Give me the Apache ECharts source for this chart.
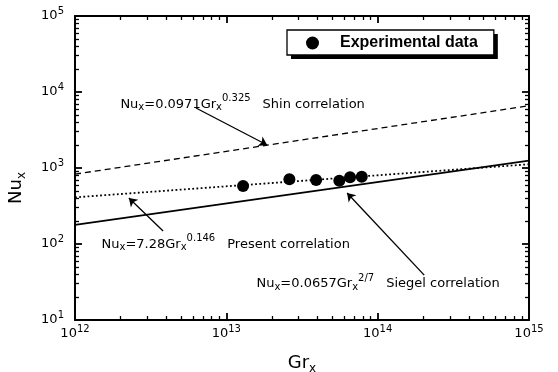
<!DOCTYPE html>
<html>
<head>
<meta charset="utf-8">
<script src="https://cdn.jsdelivr.net/npm/echarts@6/dist/echarts.min.js"></script>
<style>
  html, body { margin: 0; padding: 0; background: #fff; }
  #chart { width: 558px; height: 372px; }
</style>
</head>
<body>
<div id="chart"></div>
<script>
// experimental points
var grExp = [1.29e13, 2.61e13, 3.92e13, 5.58e13, 6.57e13, 7.85e13];
var nuExp = [580, 710, 695, 680, 755, 769];
var legendLabel = 'Experimental data';

// correlation lines, end points at Gr = 1e12 and 1e15
var grEnds = [1e12, 1e15];
var nuShin = [830, 6600];
var nuPresent = [411, 1120];
var nuSiegel = [178, 1250];

// annotation text anchors [Gr, Nu] and labels
var shinLabelAt = [1.98e12, 6810];
var presentLabelAt = [1.486e12, 98];
var siegelLabelAt = [1.57e13, 29.8];
var shinLabel = 'Nu{sub|x}=0.0971Gr{sub|x}{sup|0.325}{nm|Shin correlation}';
var presentLabel = 'Nu{sub|x}=7.28Gr{sub|x}{sup|0.146}{nm|Present correlation}';
var siegelLabel = 'Nu{sub|x}=0.0657Gr{sub|x}{sup|2/7}{nm|Siegel correlation}';

// arrows: [from, to]
var shinArrow = [[6.3e12, 6150], [1.86e13, 2010]];
var presentArrow = [[3.82e12, 148], [2.27e12, 403]];
var siegelArrow = [[2.03e14, 39], [6.28e13, 469]];

var xDecades = [12, 13, 14];
var yDecades = [1, 2, 3, 4];

var FONT = '"DejaVu Sans", sans-serif';
var richText = {
    sub: { fontSize: 10, lineHeight: 10, verticalAlign: 'bottom', padding: [0, 0, 3, 0], fontFamily: FONT, color: '#000' },
    sup: { fontSize: 10, lineHeight: 10, verticalAlign: 'top', fontFamily: FONT, color: '#000' },
    nm: { fontSize: 13, fontFamily: FONT, color: '#000', padding: [0, 0, 0, 12] }
};
var nameRich = {
    sub: { fontSize: 12, lineHeight: 12, verticalAlign: 'bottom', padding: [0, 0, 2, 0], fontFamily: FONT, color: '#000' }
};

function pairs(xs, ys) {
    return xs.map(function (x, i) { return [x, ys[i]]; });
}

function minorValues(decades) {
    var out = [];
    decades.forEach(function (d) {
        for (var m = 2; m <= 9; m++) out.push(m * Math.pow(10, d));
    });
    return out;
}

function powLabel(value) {
    return '10{sup|' + Math.round(Math.log10(value)) + '}';
}

function textPoint(at, text) {
    return {
        coord: at, symbol: 'circle', symbolSize: 1,
        itemStyle: { color: 'rgba(0,0,0,0)' },
        label: {
            show: true, position: 'right', distance: 0, formatter: text,
            fontFamily: FONT, fontSize: 13, lineHeight: 22, color: '#000', rich: richText
        }
    };
}

function arrow(a) {
    return [{ coord: a[0] }, { coord: a[1] }];
}

var markStyle = {
    silent: true, animation: false,
    symbol: ['none', 'arrow'], symbolSize: 8,
    lineStyle: { color: '#000', width: 1.3, type: 'solid' },
    label: { show: false }
};

function logAxis(range, pos, labels, margin) {
    return {
        type: 'log', logBase: 10, min: range[0], max: range[1], position: pos,
        axisLine: { show: true, lineStyle: { color: '#000', width: 2 } },
        axisTick: { show: true, inside: true, length: 7, lineStyle: { color: '#000', width: 1.8 } },
        axisLabel: { show: labels, formatter: powLabel, margin: margin, fontFamily: FONT, fontSize: 13, lineHeight: 20, color: '#000', rich: richText },
        splitLine: { show: false }, minorTick: { show: false }
    };
}
// short ticks at 2..9 of each decade
function minorAxis(range, pos, decades) {
    return {
        type: 'log', logBase: 10, min: range[0], max: range[1], position: pos,
        axisLine: { show: false },
        axisTick: { show: true, inside: true, length: 4, customValues: minorValues(decades), lineStyle: { color: '#000', width: 1.3 } },
        axisLabel: { show: false }, splitLine: { show: false }, minorTick: { show: false }
    };
}

var xRange = [1e12, 1e15];
var yRange = [10, 1e5];

var xMain = logAxis(xRange, 'bottom', true, 4);
xMain.name = 'Gr{sub|x}';
xMain.nameLocation = 'middle';
xMain.nameGap = 14;
xMain.nameTextStyle = { fontFamily: FONT, fontSize: 18, lineHeight: 28, color: '#000', rich: nameRich };

var yMain = logAxis(yRange, 'left', true, 11);
yMain.name = 'Nu{sub|x}';
yMain.nameLocation = 'middle';
yMain.nameGap = 44;
yMain.nameTextStyle = { fontFamily: FONT, fontSize: 18, lineHeight: 28, color: '#000', rich: nameRich, padding: [0, 40, 0, 0] };

// legend box size, for its hard drop shadow
var legendPad = [5, 16, 4, 19];
var ctx = document.createElement('canvas').getContext('2d');
ctx.font = 'bold 16px "Liberation Sans"';
var legendW = legendPad[3] + 13 + 5 + 16 + ctx.measureText(legendLabel).width + legendPad[1];
var legendH = legendPad[0] + 16 + legendPad[2];

var chart = echarts.init(document.getElementById('chart'));
chart.setOption({
    animation: false,
    backgroundColor: '#fff',
    grid: { left: 75, right: 29, top: 16, bottom: 52, containLabel: false, outerBoundsMode: 'none' },
    legend: {
        data: [legendLabel],
        left: 287, top: 30, z: 6,
        padding: legendPad,
        icon: 'circle', itemWidth: 13, itemHeight: 13,
        backgroundColor: '#fff', borderColor: '#000', borderWidth: 1.3,
        selectedMode: false,
        textStyle: { fontFamily: '"Liberation Sans", Arial, sans-serif', fontWeight: 'bold', fontSize: 16, lineHeight: 16, color: '#000', padding: [0, 0, 0, 16] }
    },
    graphic: [{
        type: 'rect', z: 5, silent: true,
        shape: { x: 287 + 4, y: 30 + 4, width: legendW, height: legendH },
        style: { fill: '#000' }
    }],
    xAxis: [xMain, logAxis(xRange, 'top', false, 4), minorAxis(xRange, 'bottom', xDecades), minorAxis(xRange, 'top', xDecades)],
    yAxis: [yMain, logAxis(yRange, 'right', false, 11), minorAxis(yRange, 'left', yDecades), minorAxis(yRange, 'right', yDecades)],
    series: [
        {
            name: 'Shin', type: 'line', data: pairs(grEnds, nuShin),
            symbol: 'none', silent: true,
            lineStyle: { color: '#000', width: 1.3, type: [6, 4] },
            markPoint: { silent: true, animation: false, data: [textPoint(shinLabelAt, shinLabel)] },
            markLine: Object.assign({ data: [arrow(shinArrow)] }, markStyle)
        },
        {
            name: 'Present', type: 'line', data: pairs(grEnds, nuPresent),
            symbol: 'none', silent: true,
            lineStyle: { color: '#000', width: 1.8, type: [1.8, 2.4] },
            markPoint: { silent: true, animation: false, data: [textPoint(presentLabelAt, presentLabel)] },
            markLine: Object.assign({ data: [arrow(presentArrow)] }, markStyle)
        },
        {
            name: 'Siegel', type: 'line', data: pairs(grEnds, nuSiegel),
            symbol: 'none', silent: true,
            lineStyle: { color: '#000', width: 1.8, type: 'solid' },
            markPoint: { silent: true, animation: false, data: [textPoint(siegelLabelAt, siegelLabel)] },
            markLine: Object.assign({ data: [arrow(siegelArrow)] }, markStyle)
        },
        {
            name: legendLabel, type: 'scatter', data: pairs(grExp, nuExp),
            symbol: 'circle', symbolSize: 12, silent: true,
            itemStyle: { color: '#000', opacity: 1 }
        }
    ]
});
</script>
</body>
</html>
